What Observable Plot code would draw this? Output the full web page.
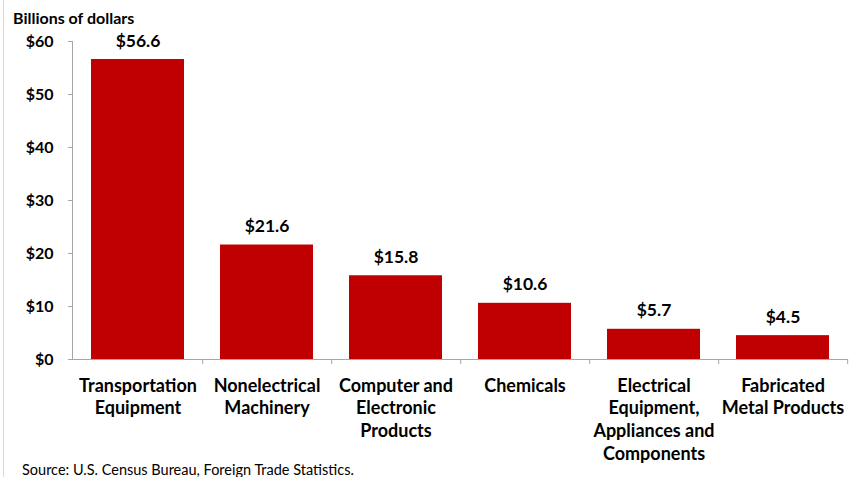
<!DOCTYPE html>
<html><head><meta charset="utf-8">
<script src="https://cdn.jsdelivr.net/npm/d3@7"></script>
<script src="https://cdn.jsdelivr.net/npm/@observablehq/plot@0.6"></script>
<style>
body{margin:0;background:#fff;font-family:Lato,"Open Sans",sans-serif;}
#wrap{position:relative;width:853px;height:477px;overflow:hidden;}
#title{position:absolute;left:13px;top:10px;font-weight:bold;font-size:16px;line-height:1;color:#000;white-space:nowrap;}
#source{position:absolute;left:22px;top:463px;font-size:14.5px;line-height:1;color:#000;white-space:nowrap;}
#border{position:absolute;left:3px;top:0;bottom:0;border-left:1px solid #d9d9d9;}
#chart{position:absolute;left:0;top:0;}
</style></head><body>
<div id="wrap"><div id="border"></div><div id="chart"></div>
<div id="title">Billions of dollars</div>
<div id="source">Source: U.S. Census Bureau, Foreign Trade Statistics.</div></div>
<script>
const categories = ["Transportation Equipment","Nonelectrical Machinery","Computer and Electronic Products","Chemicals","Electrical Equipment, Appliances and Components","Fabricated Metal Products"];
const tickLabels = ["Transportation\nEquipment","Nonelectrical\nMachinery","Computer and\nElectronic\nProducts","Chemicals","Electrical\nEquipment,\nAppliances and\nComponents","Fabricated\nMetal Products"];
const values = [56.6, 21.6, 15.8, 10.6, 5.7, 4.5];
const valueLabels = ["$56.6","$21.6","$15.8","$10.6","$5.7","$4.5"];
const yTicks = [0, 10, 20, 30, 40, 50, 60];

const data = categories.map((c, i) => ({category: c, value: values[i], label: valueLabels[i]}));
const W = 853, H = 477, mL = 72, mR = 5;
const step = (W - mL - mR) / categories.length;
const gray = "#a6a6a6";
const chart = Plot.plot({
  width: W, height: H,
  marginTop: 41, marginBottom: 118, marginLeft: mL, marginRight: mR,
  style: {fontFamily: "Lato, 'Open Sans', sans-serif", fontWeight: "bold", color: "#000", background: "transparent"},
  x: {domain: categories, paddingInner: 0.28, paddingOuter: 0.14, label: null},
  y: {domain: [0, 60], label: null},
  marks: [
    Plot.barY(data, {x: "category", y: "value", fill: "#c00000"}),
    Plot.ruleY([0], {stroke: gray}),
    Plot.frame({anchor: "left", stroke: gray}),
    Plot.axisY({ticks: yTicks, tickFormat: d => "$" + d, tickSize: 4, tickPadding: 15, stroke: gray, fill: "#000", fontSize: 16, label: null}),
    Plot.axisX({tickSize: 0, tickPadding: 16, fontSize: 18, lineHeight: 1.26, fill: "#000", tickFormat: d => tickLabels[categories.indexOf(d)], label: null}),
    Plot.axisX({tickSize: 5, tickFormat: () => "", dx: step / 2, stroke: gray, label: null}),
    Plot.text(data, {x: "category", y: "value", text: "label", dy: -13, lineAnchor: "bottom", fontSize: 17.5, fontWeight: "bold", fill: "#000"})
  ]
});
document.getElementById("chart").appendChild(chart);
</script>
</body></html>
